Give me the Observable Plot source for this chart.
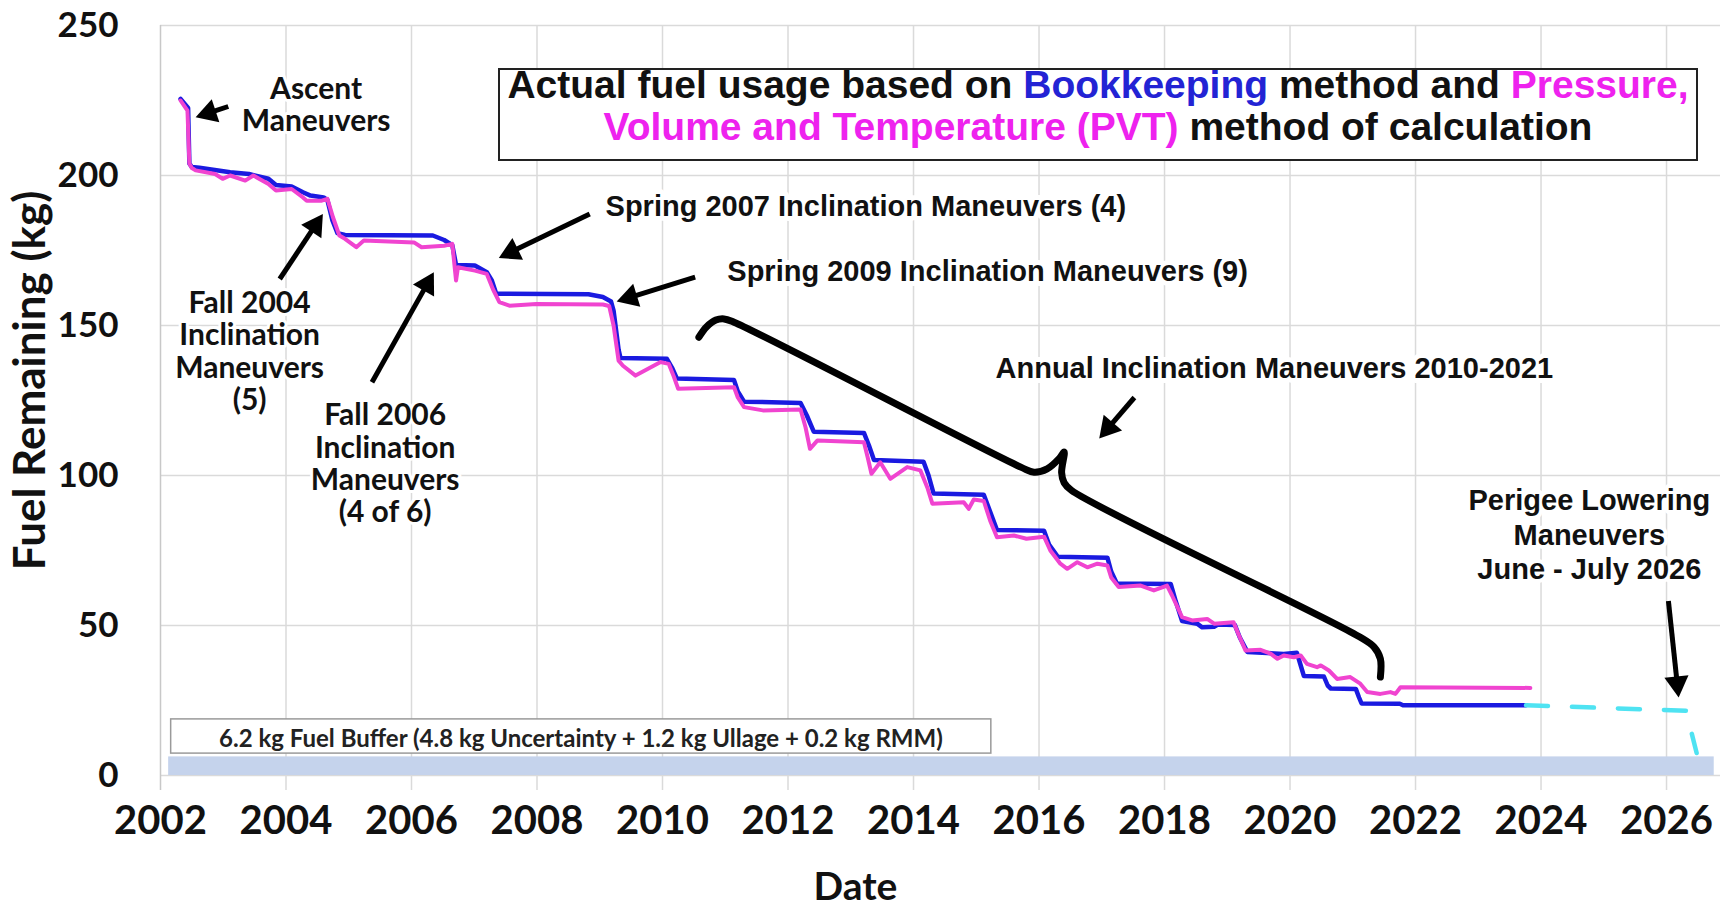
<!DOCTYPE html>
<html><head><meta charset="utf-8">
<script src="https://cdn.jsdelivr.net/npm/d3@7"></script>
<script src="https://cdn.jsdelivr.net/npm/@observablehq/plot@0.6"></script>
<style>
body{margin:0;background:#fff;}
#wrap{position:relative;width:1729px;height:911px;overflow:hidden;}
#legend{position:absolute;left:498px;top:68px;width:1200px;height:93px;box-sizing:border-box;border:2px solid #222;background:#fff;}
#legend div{position:absolute;left:0;width:100%;text-align:center;font-family:"Liberation Sans",Arial,sans-serif;font-weight:bold;font-size:39px;line-height:42px;height:42px;color:#111;white-space:nowrap;}
.bk{color:#2323d4;} .pvt{color:#ee22ee;}
</style></head>
<body><div id="wrap"></div>
<script>
// ---- Axis ticks ----
const xTicks = [2002,2004,2006,2008,2010,2012,2014,2016,2018,2020,2022,2024,2026];
const yTicks = [0,50,100,150,200,250];

// ---- Bookkeeping method (kg) ----
const bookYear = [2002.32,2002.40,2002.44,2002.46,2002.50,2002.62,2003.11,2003.41,2003.72,2003.84,2004.09,2004.27,2004.39,2004.60,2004.66,2004.74,2004.82,2004.94,2006.34,2006.52,2006.65,2006.71,2007.01,2007.20,2007.28,2007.35,2008.82,2009.05,2009.18,2009.22,2009.30,2009.33,2010.07,2010.15,2010.23,2011.14,2011.20,2011.30,2012.20,2012.30,2012.41,2013.21,2013.29,2013.37,2014.16,2014.24,2014.32,2015.12,2015.22,2015.33,2016.08,2016.16,2016.30,2017.09,2017.15,2017.24,2018.10,2018.18,2018.28,2018.52,2018.60,2018.79,2018.85,2019.12,2019.20,2019.32,2019.90,2020.11,2020.18,2020.22,2020.54,2020.60,2020.65,2021.05,2021.10,2021.14,2021.75,2021.80,2023.76];
const bookKg   = [225.5,223.5,222.5,204.0,202.8,202.6,201.1,200.5,198.9,196.8,196.3,194.4,193.3,192.7,191.8,185.0,180.8,180.2,180.0,178.5,176.8,170.2,170.0,167.8,165.0,160.6,160.4,159.5,158.0,155.0,142.0,139.2,138.9,136.0,132.3,131.8,128.0,124.6,124.2,120.0,114.6,114.2,110.0,105.2,104.6,100.0,94.0,93.6,88.0,81.8,81.6,77.0,72.9,72.6,68.0,64.0,63.8,58.0,51.5,50.6,49.4,49.6,50.3,50.2,46.0,41.2,40.5,40.9,36.0,33.2,33.0,30.0,29.0,28.8,26.0,24.0,23.9,23.4,23.4];

// ---- PVT method (kg) ----
const pvtYear = [2002.32,2002.43,2002.46,2002.50,2002.56,2002.87,2002.99,2003.11,2003.35,2003.48,2003.72,2003.84,2004.09,2004.27,2004.33,2004.57,2004.66,2004.75,2004.85,2004.94,2005.12,2005.24,2006.04,2006.16,2006.52,2006.65,2006.71,2006.74,2007.01,2007.20,2007.30,2007.40,2007.56,2007.99,2009.05,2009.15,2009.22,2009.30,2009.37,2009.57,2009.97,2010.10,2010.18,2010.25,2011.14,2011.20,2011.30,2011.60,2012.20,2012.28,2012.35,2012.47,2013.21,2013.27,2013.33,2013.47,2013.63,2013.90,2014.11,2014.22,2014.30,2014.80,2014.88,2014.96,2015.12,2015.22,2015.33,2015.60,2015.80,2016.08,2016.18,2016.34,2016.45,2016.61,2016.77,2016.93,2017.09,2017.15,2017.27,2017.62,2017.83,2018.04,2018.12,2018.28,2018.44,2018.68,2018.79,2019.10,2019.18,2019.29,2019.53,2019.69,2019.80,2019.90,2020.06,2020.17,2020.27,2020.43,2020.49,2020.62,2020.75,2020.96,2021.12,2021.23,2021.44,2021.60,2021.68,2021.76,2023.83];
const pvtKg   = [225.0,221.6,204.0,202.5,201.7,200.5,198.9,200.0,198.3,200.0,197.2,195.0,195.5,192.7,191.6,191.6,192.2,186.0,180.0,178.9,176.1,178.3,177.7,176.1,176.6,177.2,165.0,169.4,168.3,167.2,162.0,157.8,156.6,157.2,157.0,156.5,150.0,138.3,136.6,133.3,137.8,137.2,133.0,128.9,129.4,126.0,122.8,121.7,122.0,116.0,108.9,111.7,111.1,106.0,100.6,104.4,98.9,102.8,101.7,96.0,90.6,91.1,88.9,92.0,91.5,85.0,79.4,80.0,78.9,79.6,75.0,70.6,68.9,71.1,69.4,70.6,70.0,66.0,62.8,63.3,61.7,63.3,60.0,52.8,51.7,52.2,50.6,51.1,47.0,41.7,41.9,40.6,38.9,40.0,39.4,40.0,37.2,36.1,36.7,35.0,32.2,32.8,30.6,27.8,27.2,27.8,27.2,29.4,29.2];

// ---- Projection to perigee lowering (kg) ----
const projYear = [2023.76,2026.31,2026.48];
const projKg   = [23.4,21.6,7.5];

// ---- Fuel buffer ----
const bufferKg = 6.2;
const bufferSpan = [2002.13, 2026.76];
const bufferLabel = "6.2 kg Fuel Buffer (4.8 kg Uncertainty + 1.2 kg Ullage + 0.2 kg RMM)";
const bufferBox = {x1: 2002.17, x2: 2015.24, y1: 7.3, y2: 18.7, tx: 2008.70, ty: 12.0};

// ---- Annotations (anchor year, anchor kg) ----
const noteBlockText = ["Ascent\nManeuvers", "Fall 2004\nInclination\nManeuvers\n(5)", "Fall 2006\nInclination\nManeuvers\n(4 of 6)"];
const noteBlockX = [2004.48, 2003.42, 2005.58];
const noteBlockY = [223.6, 141.5, 104.0];
const noteLineText = ["Spring 2007 Inclination Maneuvers (4)", "Spring 2009 Inclination Maneuvers (9)", "Annual Inclination Maneuvers 2010-2021"];
const noteLineX = [2013.24, 2015.18, 2019.75];
const noteLineY = [189.6, 167.9, 135.6];
const perigeeText = "Perigee Lowering\nManeuvers\nJune - July 2026";
const perigeeX = 2024.77, perigeeY = 80.65;
const yTitle = "Fuel Remaining (kg)", yTitleX = 1999.94, yTitleY = 131.7;
const xTitle = "Date";

// arrows: tail -> head tip
const arrowX1 = [2003.08, 2003.90, 2005.37, 2008.84, 2010.52, 2017.52, 2026.03];
const arrowY1 = [223.0, 165.5, 131.1, 187.2, 166.1, 126.0, 58.2];
const arrowX2 = [2002.59, 2004.57, 2006.34, 2007.42, 2009.30, 2016.98, 2026.19];
const arrowY2 = [219.6, 186.6, 167.2, 172.8, 158.2, 112.8, 26.7];

// curly brace over annual maneuvers
const braceX = [2010.58,2010.70,2010.85,2010.98,2011.14,2015.71,2015.92,2016.13,2016.32,2016.40,2016.36,2016.40,2016.52,2021.12,2021.34,2021.44,2021.44];
const braceY = [146.1,149.5,151.8,152.2,151.1,102.8,101.1,102.2,105.6,107.8,101.0,97.6,95.0,46.1,42.8,38.9,32.8];

const zip = (xs, ys) => xs.map((x, i) => ({x, y: ys[i]}));
const book = zip(bookYear, bookKg);
const pvt = zip(pvtYear, pvtKg);
const proj = zip(projYear, projKg);
const brace = zip(braceX, braceY);
const blocks = noteBlockText.map((t, i) => ({t, x: noteBlockX[i], y: noteBlockY[i]}));
const lines1 = noteLineText.map((t, i) => ({t, x: noteLineX[i], y: noteLineY[i]}));

const W = 1729, H = 911, mL = 160, mR = 9, mT = 25, mB = 136;
const xMax = 2026.86;
const grid = "#dadada";

// scales (same as the plot's) used to orient the filled arrowheads
const sx = Plot.scale({x: {domain: [2002, xMax], range: [mL, W - mR]}});
const sy = Plot.scale({y: {domain: [0, 250], range: [H - mB, mT]}});
const headBack = 12; // px from tip to triangle centre
const arrows = arrowX1.map((x1, i) => {
  const px1 = sx.apply(x1), py1 = sy.apply(arrowY1[i]);
  const px2 = sx.apply(arrowX2[i]), py2 = sy.apply(arrowY2[i]);
  const L = Math.hypot(px2 - px1, py2 - py1), ux = (px2 - px1) / L, uy = (py2 - py1) / L;
  return {
    x1, y1: arrowY1[i],
    hx: sx.invert(px2 - ux * headBack), hy: sy.invert(py2 - uy * headBack),
    rot: Math.atan2(ux, -uy) * 180 / Math.PI
  };
});

const chart = Plot.plot({
  width: W, height: H,
  marginLeft: mL, marginRight: mR, marginTop: mT, marginBottom: mB,
  x: {domain: [2002, xMax]},
  y: {domain: [0, 250]},
  style: {fontFamily: "Lato, sans-serif", color: "#111", background: "white", overflow: "visible"},
  marks: [
    Plot.ruleY(yTicks, {x1: 2002, x2: xMax, stroke: grid, strokeWidth: 1.5}),
    Plot.ruleX(xTicks.slice(1), {y1: -5, y2: 250, stroke: grid, strokeWidth: 1.5}),
    Plot.ruleX([2002], {y1: -5, y2: 250, stroke: "#c8c8c8", strokeWidth: 1.5}),
    Plot.rect([{x1: bufferSpan[0], x2: bufferSpan[1], y1: 0, y2: bufferKg}], {x1: "x1", x2: "x2", y1: "y1", y2: "y2", fill: "#c5d3ec"}),
    Plot.rect([bufferBox], {x1: "x1", x2: "x2", y1: "y1", y2: "y2", fill: "white", stroke: "#9a9a9a", strokeWidth: 1.5}),
    Plot.text([bufferBox], {x: "tx", y: "ty", text: () => bufferLabel, fontSize: 24, fontWeight: "bold", fill: "#222"}),
    Plot.axisY({ticks: yTicks, tickSize: 0, tickPadding: 42, fontSize: 35, fontWeight: "bold", label: null}),
    Plot.axisX({ticks: xTicks, tickFormat: d3.format("d"), tickSize: 0, tickPadding: 30, fontSize: 40, fontWeight: "bold", label: null}),
    Plot.text([yTitle], {x: yTitleX, y: yTitleY, text: d => d, rotate: -90, fontSize: 44, fontWeight: "bold", fill: "#111"}),
    Plot.text([xTitle], {frameAnchor: "bottom", lineAnchor: "middle", dx: -85, dy: 112, fontSize: 39, fontWeight: "bold", fill: "#111"}),
    Plot.text(blocks, {x: "x", y: "y", text: "t", fontSize: 30, lineHeight: 1.08, fontWeight: "bold", fill: "#111", stroke: "white", strokeWidth: 6, paintOrder: "stroke"}),
    Plot.text(lines1, {x: "x", y: "y", text: "t", fontSize: 29, fontWeight: "bold", fontFamily: "Liberation Sans, Arial, sans-serif", fill: "#111", stroke: "white", strokeWidth: 10, paintOrder: "stroke"}),
    Plot.text([perigeeText], {x: perigeeX, y: perigeeY, text: d => d, fontSize: 29, lineHeight: 1.2, fontWeight: "bold", fontFamily: "Liberation Sans, Arial, sans-serif", fill: "#111", stroke: "white", strokeWidth: 8, paintOrder: "stroke"}),
    Plot.line(brace, {x: "x", y: "y", curve: "catmull-rom", stroke: "black", strokeWidth: 7, strokeLinecap: "round", strokeLinejoin: "round"}),
    Plot.line(book, {x: "x", y: "y", stroke: "#1a1ae0", strokeWidth: 4.5, strokeLinejoin: "round"}),
    Plot.line(pvt, {x: "x", y: "y", stroke: "#f044d0", strokeWidth: 4, strokeLinejoin: "round"}),
    Plot.line(proj, {x: "x", y: "y", stroke: "#4fe3f2", strokeWidth: 4.5, strokeDasharray: "22,24"}),
    Plot.link(arrows, {x1: "x1", y1: "y1", x2: "hx", y2: "hy", stroke: "black", strokeWidth: 5}),
    Plot.dot(arrows, {x: "hx", y: "hy", symbol: "triangle", r: 9, rotate: "rot", fill: "black", stroke: "none"})
  ]
});

const wrap = document.getElementById("wrap");
wrap.appendChild(chart);
const legend = document.createElement("div");
legend.id = "legend";
legend.innerHTML = '<div style="top:-6px">Actual fuel usage based on <span class="bk">Bookkeeping</span> method and <span class="pvt">Pressure,</span></div>' +
  '<div style="top:36px"><span class="pvt">Volume and Temperature (PVT)</span> method of calculation</div>';
wrap.appendChild(legend);
</script>
</body></html>
